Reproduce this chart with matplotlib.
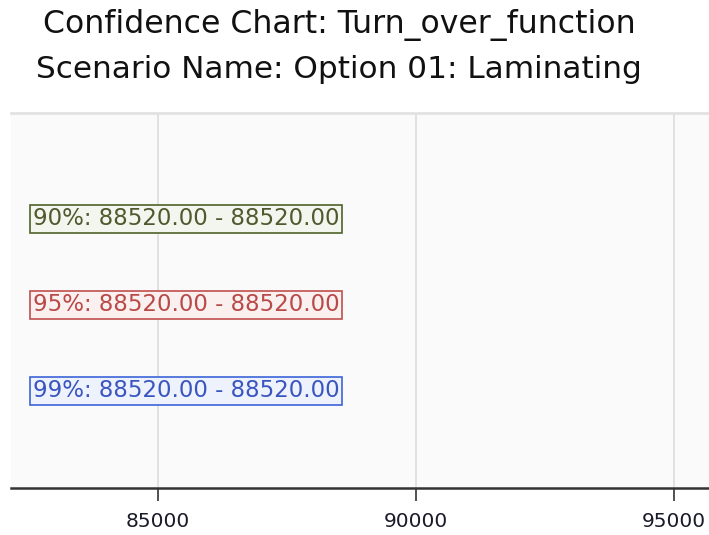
import matplotlib
matplotlib.use("Agg")
import matplotlib.pyplot as plt

# Confidence levels and interval bounds
levels = ["90%", "95%", "99%"]
lower = [88520.00, 88520.00, 88520.00]
upper = [88520.00, 88520.00, 88520.00]
ticks = [85000, 90000, 95000]

edge_colors = ["#4f6228", "#c0504d", "#3c64d8"]
face_colors = ["#f3f6ee", "#fbf0f0", "#eef2fc"]
text_colors = ["#4e5a2e", "#b84a48", "#3a55c0"]
rows = [2, 1, 0]

plt.rcParams["font.family"] = ["DejaVu Sans"]

W, H = 709, 535
fig = plt.figure(figsize=(W / 100, H / 100), dpi=100)
left_px, top_px, bottom_px = 11, 113, 488
ax = fig.add_axes([left_px / W, (H - bottom_px) / H, 1 - left_px / W, (bottom_px - top_px) / H])
ax.set_facecolor("#fafafa")

# x scale: 85000 at x=158px, 90000 at x=416px
px_per_unit = (416 - 158) / 5000
ax.set_xlim(85000 - (158 - left_px) / px_per_unit, 85000 + (W - 158) / px_per_unit)
ax.set_ylim(-1.13, 3.23)

ax.set_xticks(ticks)
ax.set_xticklabels([str(t) for t in ticks], fontsize=14.5, color="#1a1a2a")
ax.set_yticks([])
ax.grid(axis="x", color="#dcdcdc", linewidth=1.2)
ax.set_axisbelow(True)

for s in ["left", "right"]:
    ax.spines[s].set_visible(False)
ax.spines["top"].set_color("#e2e2e2")
ax.spines["top"].set_linewidth(2)
ax.spines["bottom"].set_color("#333333")
ax.spines["bottom"].set_linewidth(1.8)
ax.tick_params(axis="x", length=9, width=1.2, color="#333333", pad=8)

for lev, lo, hi, ec, fc, tc, r in zip(levels, lower, upper, edge_colors, face_colors, text_colors, rows):
    ax.plot([lo, hi], [r, r], color=ec, linewidth=2)
    ax.text(hi, r, f"{lev}: {lo:.2f} - {hi:.2f}", ha="right", va="center",
            fontsize=16.5, color=tc,
            bbox=dict(boxstyle="square,pad=0.12", facecolor=fc, edgecolor=ec, linewidth=1.2))

fig.text(339 / W, 1 - 25 / H, "Confidence Chart: Turn_over_function", ha="center", va="center",
         fontsize=22.7, color="#111111")
fig.text(339 / W, 1 - 70 / H, "Scenario Name: Option 01: Laminating", ha="center", va="center",
         fontsize=22.4, color="#111111")

fig.savefig("out.png", dpi=100)
